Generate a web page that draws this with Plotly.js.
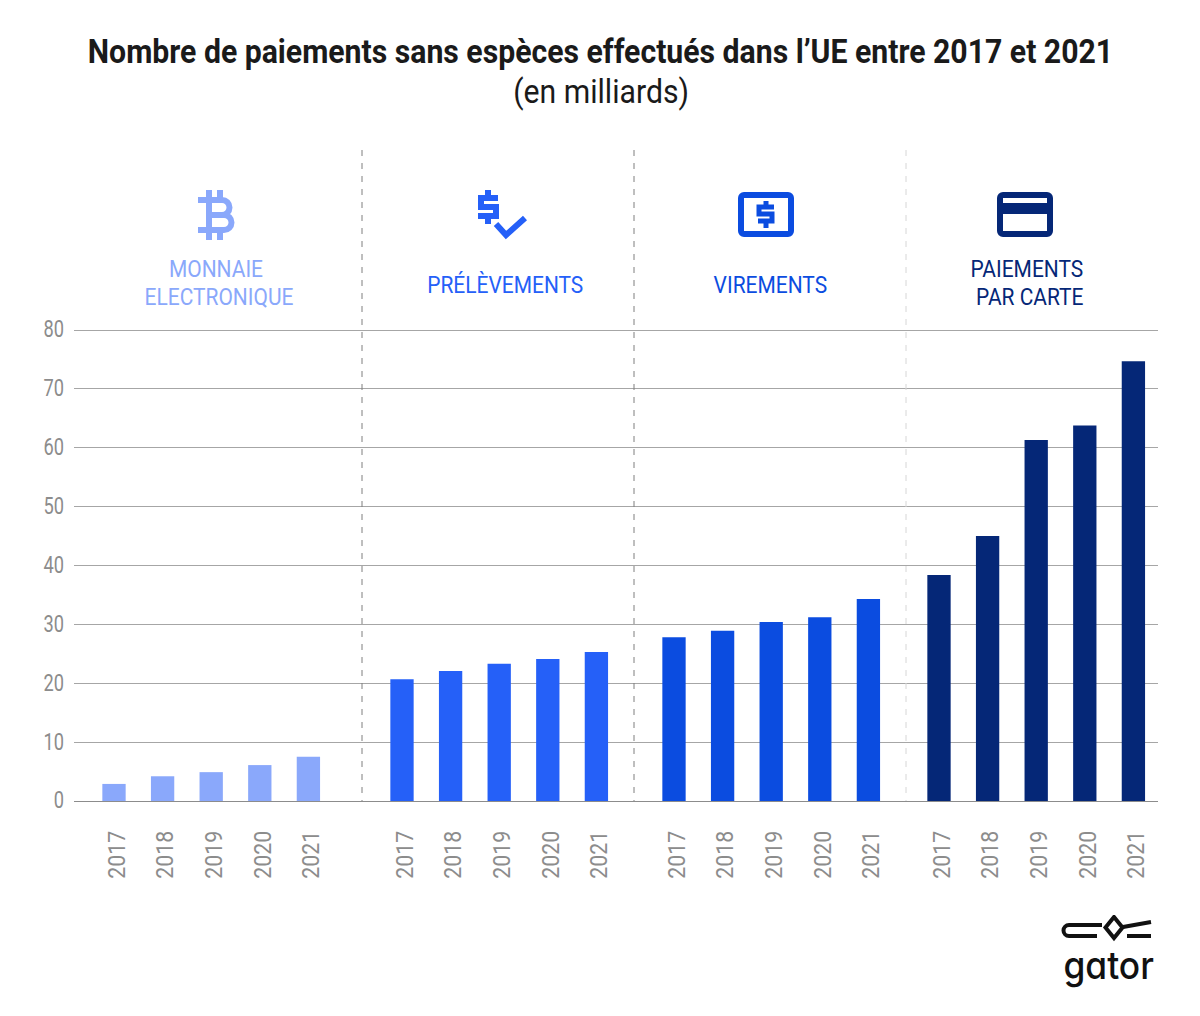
<!DOCTYPE html>
<html>
<head>
<meta charset="utf-8">
<script src="https://cdn.plot.ly/plotly-3.0.1.min.js"></script>
<style>
body{margin:0;background:#fff}
.logo-text{font-feature-settings:"cv11" 1}
</style>
</head>
<body>
<div id="chart" style="width:1200px;height:1016px"></div>
<script>
const years = ['2017', '2018', '2019', '2020', '2021'];
const monnaie = [2.9, 4.2, 4.9, 6.1, 7.5];
const prelevements = [20.7, 22.1, 23.3, 24.1, 25.3];
const virements = [27.8, 28.9, 30.4, 31.2, 34.3];
const cartes = [38.4, 45, 61.3, 63.8, 74.7];
const colors = ['#8aa8fb', '#2560f8', '#0b4ce0', '#052777'];

// plot area in pixels, everything else gets placed from these
// top is 2px above the 80 line, plotly drops a gridline sitting on the range end
const L = 74, R = 1158, T = 328, B = 801;
const yMax = 80 * (B - T) / (B - 330);
const px = x => (x - L) / (R - L);
const py = y => (B - y) / (B - T);
const step = 48.6;

function groupAxis(left, right, first) {
	return {
		domain: [px(left), px(right)],
		range: [(left - first) / step, (right - first) / step],
		anchor: 'y', type: 'category', showgrid: false, zeroline: false, showline: false,
		ticks: '', tickangle: -90, ticklabelstandoff: 24, fixedrange: true,
		tickfont: {family: 'Roboto', size: 24, color: '#8c8c8c'},
	};
}

function bars(values, i) {
	return {
		type: 'bar', x: years, y: values, xaxis: i ? 'x' + (i + 1) : 'x', yaxis: 'y',
		marker: {color: colors[i]}, hoverinfo: 'skip',
	};
}

function label(text, x, y, size, color, extra) {
	return Object.assign({
		text, x: px(x), y: py(y), xref: 'paper', yref: 'paper', xanchor: 'center', yanchor: 'middle',
		showarrow: false, font: {family: 'Roboto', size, color},
	}, extra);
}

function svgImage(svg, x0, y0, x1, y1) {
	return {
		source: 'data:image/svg+xml,' + encodeURIComponent(svg),
		xref: 'paper', yref: 'paper', x: px(x0), y: py(y0), sizex: px(x1) - px(x0), sizey: py(y0) - py(y1),
		xanchor: 'left', yanchor: 'top', sizing: 'stretch', layer: 'above',
	};
}

const ns = 'xmlns="http://www.w3.org/2000/svg"';
const bitcoin = `<svg ${ns} viewBox="0 0 37 50"><path fill="none" stroke="${colors[0]}" stroke-width="6" d="M0 10H24a7.500 7.500 0 0 1 0 15H10H26a7.500 7.500 0 0 1 0 15H0M11 10V40M11 0V8M22 0V8M11 42V50M22 42V50"/></svg>`;
const check = `<svg ${ns} viewBox="0 0 49 50"><path fill="none" stroke="${colors[1]}" stroke-width="6" d="M20 8H3V17H18V26H0"/><path fill="none" stroke="${colors[1]}" stroke-width="6" d="M10 0V6M10 28V34"/><path fill="none" stroke="${colors[1]}" stroke-width="6" d="M18 34L28 45L47 28"/></svg>`;
const bill = `<svg ${ns} viewBox="0 0 56 45"><rect x="3" y="3" width="50" height="39" rx="3" fill="none" stroke="${colors[2]}" stroke-width="6"/><path fill="none" stroke="${colors[2]}" stroke-width="5" d="M36 15H21V22H34V29H20M28 9V14M28 31V36"/></svg>`;
const card = `<svg ${ns} viewBox="0 0 56 45"><rect x="3" y="3" width="50" height="39" rx="3" fill="none" stroke="${colors[3]}" stroke-width="6"/><rect x="3" y="11" width="50" height="11" fill="${colors[3]}"/></svg>`;
const logo = `<svg ${ns} viewBox="0 0 95 27"><g fill="none" stroke="#111" stroke-width="4"><path d="M42 10H9a5.500 5.500 0 0 0 0 11H37"/><path d="M54 2L62.500 12.500L54 23L45.500 12.500Z"/><path d="M63 12L91 7M67 21H91"/></g></svg>`;

const traces = [monnaie, prelevements, virements, cartes].map(bars);

const layout = {
	width: 1200, height: 1016, paper_bgcolor: '#fff', plot_bgcolor: '#fff', showlegend: false,
	margin: {l: L, r: 1200 - R, t: T, b: 1016 - B, pad: 0},
	bargap: 0.52,
	title: {
		text: '<b>Nombre de paiements sans espèces effectués dans l’UE entre 2017 et 2021</b>',
		font: {family: 'Roboto', size: 33, color: '#1a1a1a'}, x: 600.5 / 1200, xanchor: 'center', xref: 'container',
		y: 1 - 51 / 1016, yanchor: 'middle',
	},
	xaxis: groupAxis(L, 362, 114),
	xaxis2: groupAxis(362, 634, 402),
	xaxis3: groupAxis(634, 906, 674),
	xaxis4: groupAxis(906, R, 939),
	yaxis: {
		range: [0, yMax], dtick: 10, anchor: 'x', gridcolor: '#a6a6a6', gridwidth: 1, zeroline: true,
		zerolinecolor: '#8c8c8c', zerolinewidth: 1, showline: false, ticks: '', ticklabelstandoff: 9, fixedrange: true,
		tickfont: {family: 'Roboto', size: 24, color: '#8c8c8c'},
	},
	shapes: [[362, '#7f7f7f'], [634, '#7f7f7f'], [906, '#d6d6d6']].map(([x, color]) => ({
		type: 'line', xref: 'paper', yref: 'paper', x0: px(x), x1: px(x), y0: py(150), y1: 0,
		line: {color, width: 1, dash: '6px,7px'}, layer: 'above',
	})),
	annotations: [
		label('(en milliards)', 601, 92, 33, '#1a1a1a'),
		label('MONNAIE', 216, 269, 24.5, colors[0]),
		label('ELECTRONIQUE', 219, 297, 24.5, colors[0]),
		label('PRÉLÈVEMENTS', 505, 284, 24.5, colors[1]),
		label('VIREMENTS', 770, 284, 24.5, colors[2]),
		label('PAIEMENTS', 1027, 269, 24.5, colors[3]),
		label('PAR CARTE', 1030, 297, 24.5, colors[3]),
		label('gator', 1108, 965, 38, '#111', {font: {family: 'Inter', size: 38, color: '#111', weight: 500}}),
	],
	images: [
		svgImage(bitcoin, 198, 190, 235, 240),
		svgImage(check, 478, 190, 527, 240),
		svgImage(bill, 738, 192, 794, 237),
		svgImage(card, 997, 192, 1053, 237),
		svgImage(logo, 1060, 915, 1155, 942),
	],
};

// no condensed Roboto installed, so narrow the real text to the reference width
function squeeze(el, ratio) {
	el.setAttribute('textLength', el.getComputedTextLength() * ratio);
	el.setAttribute('lengthAdjust', 'spacingAndGlyphs');
}

function nudge(el, dx, dy) {
	el.setAttribute('transform', `translate(${dx},${dy}) ` + (el.getAttribute('transform') || ''));
}

Plotly.newPlot('chart', traces, layout, {displayModeBar: false, staticPlot: true}).then(gd => {
	gd.querySelectorAll('.xtick text, .x2tick text, .x3tick text, .x4tick text').forEach(t => {
		squeeze(t, 0.89);
		nudge(t, 3, 0);
	});
	gd.querySelectorAll('.ytick text').forEach(t => {
		squeeze(t, 0.76);
		nudge(t, 0, -1);
	});
	gd.querySelectorAll('.gtitle').forEach(t => squeeze(t, 0.915));
	gd.querySelectorAll('.annotation-text').forEach(t => {
		if (t.textContent === 'gator') {
			t.classList.add('logo-text');
			squeeze(t, 0.93);
		} else if (t.textContent === '(en milliards)') squeeze(t, 0.915);
		else squeeze(t, 0.855);
	});
});
</script>
</body>
</html>
